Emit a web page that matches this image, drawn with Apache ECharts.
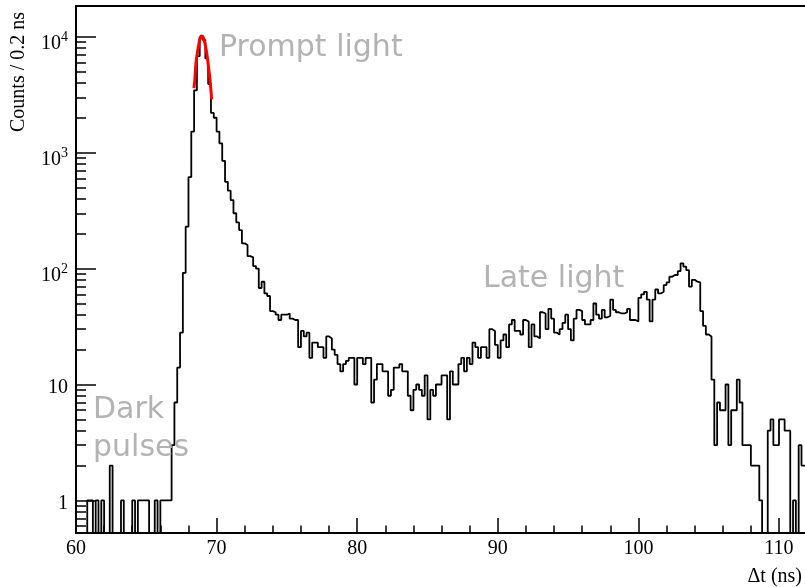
<!DOCTYPE html>
<html>
<head>
<meta charset="utf-8">
<script src="https://cdn.jsdelivr.net/npm/echarts@6/dist/echarts.min.js"></script>
<style>
    html, body { margin: 0; padding: 0; background: #fff; }
    #main { width: 805px; height: 587px; }
</style>
</head>
<body>
<div id="main"></div>
<script>
// histogram, 0.2 ns bins starting at 60 ns
var binStart = 60;
var binWidth = 0.2;
var counts = [
    0, 0, 0, 0, 1, 1, 0, 1, 0, 1,
    0, 0, 2, 0, 0, 0, 1, 0, 0, 0,
    1, 0, 1, 1, 1, 1, 0, 0, 1, 0,
    1, 1, 1, 1, 3, 7, 14, 28, 92, 230,
    615, 1520, 3450, 6800, 9800, 9400, 6500, 3900, 2200, 2000,
    1520, 1200, 850, 560, 470, 390, 300, 250, 215, 165,
    160, 128, 125, 105, 100, 68, 77, 61, 58, 43,
    42, 40, 36, 40, 40, 41, 37, 36, 36, 21,
    29, 26, 28, 17, 23, 23, 21, 21, 17, 26,
    25, 20, 18, 15, 13, 15, 16, 17, 17, 10,
    17, 17, 15, 17, 17, 7, 11, 15, 15, 13,
    13, 8, 9, 14, 14, 15, 13, 13, 8, 6,
    9, 10, 9, 8, 12, 5, 9, 8, 10, 10,
    12, 12, 5, 13, 10, 10, 15, 17, 13, 17,
    15, 23, 21, 17, 21, 21, 17, 30, 29, 22,
    17, 24, 27, 21, 33, 36, 29, 29, 27, 36,
    35, 21, 33, 26, 25, 42, 41, 30, 45, 37,
    28, 27, 30, 34, 40, 30, 24, 37, 44, 43,
    36, 33, 33, 36, 50, 40, 37, 44, 38, 39,
    54, 44, 42, 41, 41, 42, 45, 36, 36, 35,
    56, 60, 63, 54, 35, 54, 66, 61, 63, 72,
    76, 85, 88, 88, 95, 111, 104, 97, 70, 80,
    77, 76, 43, 32, 27, 26, 11, 3, 7, 6,
    6, 10, 3, 6, 6, 11, 7, 3, 3, 3,
    2, 2, 2, 1, 0, 0, 4, 5, 3, 3,
    5, 5, 4, 4, 0, 1, 0, 3, 2, 2
];

// red fit over the prompt peak
var fitTime = [68.39, 68.46, 68.53, 68.63, 68.73, 68.82, 68.94, 69.05, 69.17, 69.30, 69.41, 69.53, 69.65];
var fitCounts = [3590, 4380, 5900, 7200, 8480, 9690, 10140, 9880, 8770, 7200, 5700, 4240, 2885];

// axes
var xMin = 60, xMax = 111.85;
var yMin = 0.524, yMax = 18400;
var xMajor = [60, 70, 80, 90, 100, 110];
var xMinor = [62, 64, 66, 68, 72, 74, 76, 78, 82, 84, 86, 88, 92, 94, 96, 98, 102, 104, 106, 108];
var yMajor = [1, 10, 100, 1000, 10000];
var yMinor = [0.6, 0.7, 0.8, 0.9,
    2, 3, 4, 5, 6, 7, 8, 9,
    20, 30, 40, 50, 60, 70, 80, 90,
    200, 300, 400, 500, 600, 700, 800, 900,
    2000, 3000, 4000, 5000, 6000, 7000, 8000, 9000];

var serif = '"Liberation Serif", "Times New Roman", serif';
var sans = '"DejaVu Sans", sans-serif';
var noteColor = '#b3b3b3';

// empty bins go down to the bottom of the frame, like root does
var zeroFloor = 0.3;

var histPts = [];
for (var i = 0; i < counts.length; i++) {
    var c = counts[i] > 0 ? counts[i] : zeroFloor;
    histPts.push([binStart + i * binWidth, c]);
}
var lastC = counts[counts.length - 1] > 0 ? counts[counts.length - 1] : zeroFloor;
histPts.push([binStart + counts.length * binWidth, lastC]);

var fitPts = [];
for (var j = 0; j < fitTime.length; j++) {
    fitPts.push([fitTime[j], fitCounts[j]]);
}

function yLabel(v) {
    var e = Math.round(Math.log10(v));
    if (e <= 1) {
        return '{n|' + v + '}';
    }
    return '{b|10}{e|' + e + '}';
}

var myChart = echarts.init(document.getElementById('main'), null, {renderer: 'canvas'});

var option = {
    animation: false,
    backgroundColor: '#fff',
    grid: {
        left: 76,
        right: 0,
        top: 6,
        bottom: 54,
        outerBoundsMode: 'none',
        containLabel: false
    },
    xAxis: [
        {
            type: 'value',
            position: 'bottom',
            min: xMin,
            max: xMax,
            axisLine: {show: true, onZero: false, lineStyle: {color: '#000', width: 2}},
            axisTick: {show: true, inside: true, length: 15, customValues: xMajor,
                lineStyle: {color: '#000', width: 1.5}},
            axisLabel: {show: true, customValues: xMajor, margin: 6, color: '#000',
                fontFamily: serif, fontSize: 20},
            splitLine: {show: false}
        },
        {
            type: 'value',
            position: 'bottom',
            min: xMin,
            max: xMax,
            axisLine: {show: false},
            axisTick: {show: true, inside: true, length: 7.5, customValues: xMinor,
                lineStyle: {color: '#000', width: 1.5}},
            axisLabel: {show: false},
            splitLine: {show: false}
        },
        {
            type: 'value',
            position: 'top',
            min: xMin,
            max: xMax,
            axisLine: {show: true, onZero: false, lineStyle: {color: '#000', width: 2}},
            axisTick: {show: false},
            axisLabel: {show: false},
            splitLine: {show: false}
        }
    ],
    yAxis: [
        {
            type: 'log',
            logBase: 10,
            position: 'left',
            min: yMin,
            max: yMax,
            axisLine: {show: true, onZero: false, lineStyle: {color: '#000', width: 2}},
            axisTick: {show: true, inside: true, length: 20, customValues: yMajor,
                lineStyle: {color: '#000', width: 1.5}},
            axisLabel: {
                show: true,
                customValues: yMajor,
                margin: 8,
                color: '#000',
                formatter: yLabel,
                rich: {
                    n: {fontFamily: serif, fontSize: 20, color: '#000', padding: [6, 0, 0, 0]},
                    b: {fontFamily: serif, fontSize: 20, color: '#000', padding: [14, 0, 0, 0]},
                    e: {fontFamily: serif, fontSize: 14, color: '#000', padding: [2, 0, 0, 0]}
                }
            },
            splitLine: {show: false}
        },
        {
            type: 'log',
            logBase: 10,
            position: 'left',
            min: yMin,
            max: yMax,
            axisLine: {show: false},
            axisTick: {show: true, inside: true, length: 10, customValues: yMinor,
                lineStyle: {color: '#000', width: 1.5}},
            axisLabel: {show: false},
            splitLine: {show: false}
        }
    ],
    series: [
        {
            name: 'counts',
            type: 'line',
            xAxisIndex: 0,
            yAxisIndex: 0,
            data: histPts,
            step: 'end',
            symbol: 'none',
            showSymbol: false,
            clip: true,
            silent: true,
            lineStyle: {color: '#000', width: 1.8},
            z: 2
        },
        {
            name: 'fit',
            type: 'line',
            xAxisIndex: 0,
            yAxisIndex: 0,
            data: fitPts,
            smooth: 0.4,
            symbol: 'none',
            showSymbol: false,
            silent: true,
            lineStyle: {color: '#ff0000', width: 3},
            z: 3
        }
    ],
    graphic: [
        {type: 'text', left: 219, top: 33, z: 10,
            style: {text: 'Prompt light', font: '30px ' + sans, fill: noteColor}},
        {type: 'text', left: 483, top: 264, z: 10,
            style: {text: 'Late light', font: '30px ' + sans, fill: noteColor}},
        {type: 'text', left: 93, top: 395, z: 10,
            style: {text: 'Dark', font: '30px ' + sans, fill: noteColor}},
        {type: 'text', left: 93, top: 433, z: 10,
            style: {text: 'pulses', font: '30px ' + sans, fill: noteColor}},
        {type: 'text', x: 19, y: 12, rotation: Math.PI / 2, z: 10,
            style: {text: 'Counts / 0.2 ns', font: '20px ' + serif, fill: '#000',
                align: 'right', verticalAlign: 'middle'}},
        {type: 'text', x: 802, y: 577, z: 10,
            style: {text: '\u0394t (ns)', font: '20px ' + serif, fill: '#000',
                align: 'right', verticalAlign: 'middle'}}
    ]
};

myChart.setOption(option);
</script>
</body>
</html>
